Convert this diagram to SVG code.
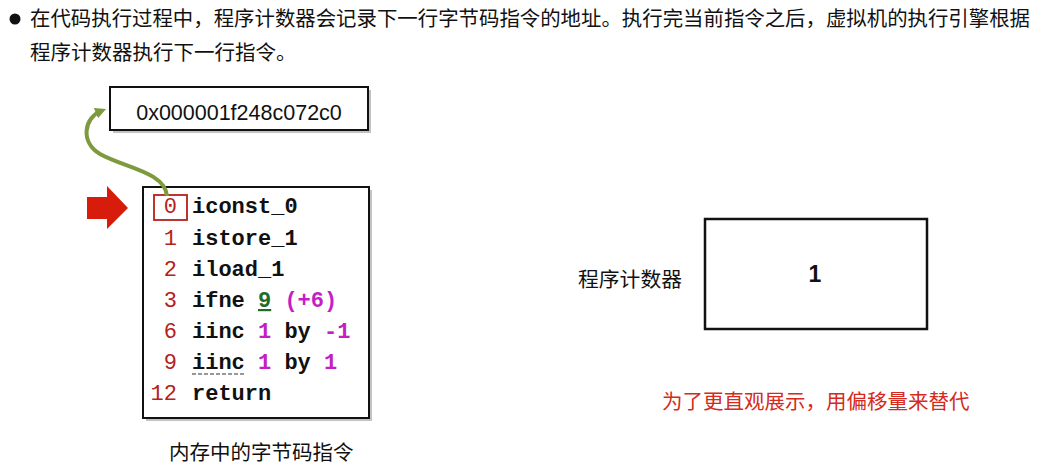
<svg xmlns="http://www.w3.org/2000/svg" width="1047" height="473" viewBox="0 0 1047 473">
<style>
.cjk{font-family:"Noto Sans CJK SC","Noto Sans",sans-serif;font-size:20.5px;fill:#111}
.code{font-family:"Liberation Mono","DejaVu Sans Mono",monospace;font-size:22px;font-weight:bold;fill:#111}
.num{fill:#b5211b;font-weight:normal}
.mag{fill:#c41ec4}
.grn{fill:#1f6b2a;text-decoration:underline}
.box{fill:#fff;stroke:#111;stroke-width:2}
.shadow{fill:#9a9a9a;opacity:0.6}
</style>
<defs>
<marker id="ah" markerWidth="11" markerHeight="11" refX="5" refY="5" orient="auto" markerUnits="userSpaceOnUse" viewBox="0 0 10 10">
<path d="M0,0 L10,5 L0,10 z" fill="#7d9a3c"/>
</marker>
</defs>
<rect width="1047" height="473" fill="#fff"/>

<g id="header">
<circle cx="15" cy="19" r="5.5" fill="#111"/>
<text class="cjk" x="30" y="26" textLength="1000" lengthAdjust="spacingAndGlyphs">在代码执行过程中，程序计数器会记录下一行字节码指令的地址。执行完当前指令之后，虚拟机的执行引擎根据</text>
<text class="cjk" x="30" y="60">程序计数器执行下一行指令。</text>
</g>

<g id="address">
<rect class="shadow" x="113" y="90" width="258" height="43"/>
<rect class="box" x="110" y="87" width="258" height="43"/>
<text x="239" y="120" text-anchor="middle" font-family="Liberation Sans, Arial, sans-serif" font-size="21.5" fill="#111">0x000001f248c072c0</text>
</g>

<g id="pointer-arrow">
<path d="M87,197 H107 V186 L128,208 L107,229 V219 H87 z" fill="#d81c0c"/>
</g>

<g id="bytecode">
<rect class="shadow" x="146" y="190" width="226" height="231"/>
<rect class="box" x="143" y="187" width="226" height="231"/>
<rect x="154" y="195" width="33" height="25" fill="none" stroke="#b5211b" stroke-width="1.8"/>
<g class="code">
<text x="177" y="213" text-anchor="end" class="num">0</text>
<text x="192" y="213">iconst_0</text>
<text x="177" y="245" text-anchor="end" class="num">1</text>
<text x="192" y="245">istore_1</text>
<text x="177" y="276" text-anchor="end" class="num">2</text>
<text x="192" y="276">iload_1</text>
<text x="177" y="307" text-anchor="end" class="num">3</text>
<text x="192" y="307" xml:space="preserve">ifne <tspan class="grn">9</tspan> <tspan class="mag">(+6)</tspan></text>
<text x="177" y="338" text-anchor="end" class="num">6</text>
<text x="192" y="338" xml:space="preserve">iinc <tspan class="mag">1</tspan> by <tspan class="mag">-1</tspan></text>
<text x="177" y="369" text-anchor="end" class="num">9</text>
<text x="192" y="369" xml:space="preserve">iinc <tspan class="mag">1</tspan> by <tspan class="mag">1</tspan></text>
<text x="177" y="400" text-anchor="end" class="num">12</text>
<text x="192" y="400">return</text>
</g>
<line x1="192" y1="374" x2="245" y2="374" stroke="#333" stroke-width="1.2" stroke-dasharray="4,2"/>
</g>

<g id="connectors">
<path d="M167,196 C165,172 125,168 100,154 C80,142 84,118 101,111" fill="none" stroke="#7d9a3c" stroke-width="4" marker-end="url(#ah)"/>
</g>

<g id="bytecode-label">
<text class="cjk" x="169" y="460">内存中的字节码指令</text>
</g>

<g id="pc">
<text class="cjk" x="578" y="287" textLength="104" lengthAdjust="spacingAndGlyphs">程序计数器</text>
<rect x="705" y="219" width="222" height="110" fill="#fff" stroke="#111" stroke-width="2.5"/>
<text x="815" y="282" text-anchor="middle" font-family="Liberation Sans, Arial, sans-serif" font-weight="bold" font-size="23" fill="#111">1</text>
</g>

<g id="note">
<text class="cjk" x="662" y="409" style="fill:#d42a20">为了更直观展示，用偏移量来替代</text>
</g>
</svg>
